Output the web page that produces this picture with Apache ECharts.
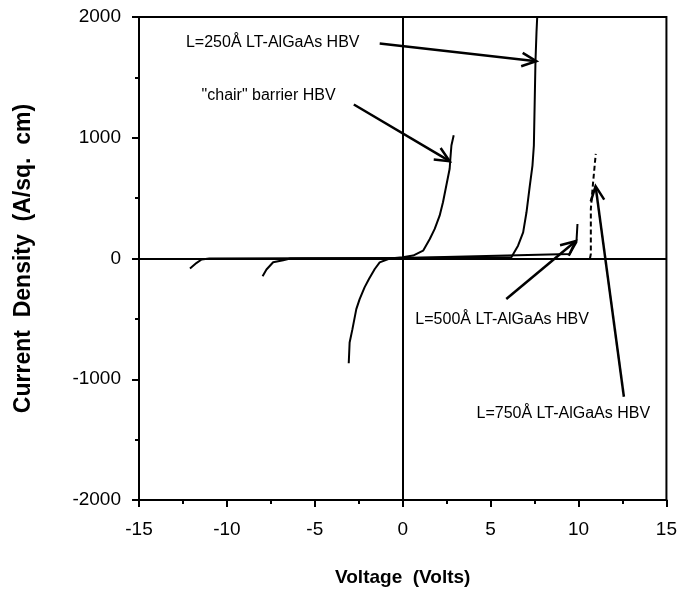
<!DOCTYPE html>
<html>
<head>
<meta charset="utf-8">
<script src="https://cdn.jsdelivr.net/npm/echarts@6/dist/echarts.min.js"></script>
<style>
  html, body { margin: 0; padding: 0; background: #fff; }
  #chart { width: 680px; height: 600px; }
</style>
</head>
<body>
<div id="chart"></div>
<script>
// I-V curves: [voltage, current density]
const chairCurve = [[-3.07,-868],[-3.02,-695],[-2.86,-585],[-2.64,-419],[-2.45,-336],[-2.17,-239],[-1.92,-170],[-1.59,-87],[-1.31,-32],[-0.74,0],[0,10],[0.59,24],[1.16,65],[1.54,162],[1.82,245],[2.1,355],[2.29,466],[2.48,604],[2.67,743],[2.71,826],[2.77,936],[2.9,1020]];
const l250Curve = [[-7.97,-147],[-7.75,-91],[-7.37,-31],[-6.8,-14],[-6.4,0],[0,5],[6.18,10],[6.56,106],[6.85,217],[7.04,383],[7.23,604],[7.38,770],[7.46,936],[7.51,1320],[7.55,1628],[7.61,1877],[7.65,2000]];
const l500Curve = [[-12.1,-83],[-11.72,-36],[-11.44,-8],[-11.0,0],[0,5],[9.5,37],[9.88,134],[9.94,286]];
const l750Curve = [[10.65,0],[10.7,37],[10.7,410],[10.83,632],[10.98,867]];

const xTicks = { min: -15, max: 15, interval: 5 };
const yTicks = { min: -2000, max: 2000, interval: 1000 };

// annotations: text, label anchor (left, middle), arrow tail, arrow tip
const labelTexts = ['L=250Å LT-AlGaAs HBV', '"chair" barrier HBV', 'L=500Å LT-AlGaAs HBV', 'L=750Å LT-AlGaAs HBV'];
const labelAnchors = [[-12.33,1789],[-11.44,1350],[0.72,-510],[4.2,-1284]];
const arrowTails = [[-1.31,1780],[-2.78,1275],[5.89,-335],[12.58,-1145]];
const arrowTips = [[7.6,1634],[2.67,806],[9.83,143],[10.97,599]];

const font = "'Liberation Sans', Arial, sans-serif";
const chart = echarts.init(document.getElementById('chart'));

function curve(data, dashed) {
  return {
    type: 'line',
    data: data,
    showSymbol: false,
    silent: true,
    clip: true,
    lineStyle: { color: '#000', width: 2, type: dashed ? [5, 3] : 'solid' }
  };
}

const axisCommon = {
  axisLine: { show: true, onZero: false, lineStyle: { color: '#000', width: 2 } },
  axisTick: { show: true, inside: false, length: 7, lineStyle: { color: '#000', width: 2 } },
  minorTick: { show: true, splitNumber: 2, length: 4, lineStyle: { color: '#000', width: 2 } },
  splitLine: { show: false },
  minorSplitLine: { show: false }
};

const series = [curve(chairCurve), curve(l250Curve), curve(l500Curve), curve(l750Curve, true)];
series[0].markLine = {
  silent: true,
  symbol: 'none',
  label: { show: false },
  lineStyle: { color: '#000', width: 2, type: 'solid' },
  data: [{ xAxis: 0 }, { yAxis: 0 }]
};

chart.setOption({
  animation: false,
  backgroundColor: '#fff',
  grid: { left: 139, top: 17, right: 13, bottom: 100, show: true, borderColor: '#000', borderWidth: 2 },
  xAxis: Object.assign({
    type: 'value',
    min: xTicks.min, max: xTicks.max, interval: xTicks.interval,
    name: 'Voltage  (Volts)',
    nameLocation: 'middle',
    nameGap: 68,
    nameTextStyle: { fontFamily: font, fontWeight: 'bold', fontSize: 19, color: '#000' },
    axisLabel: { margin: 20, fontFamily: font, fontSize: 19, color: '#000' }
  }, axisCommon),
  yAxis: Object.assign({
    type: 'value',
    min: yTicks.min, max: yTicks.max, interval: yTicks.interval,
    name: 'Current  Density  (A/sq.  cm)',
    nameLocation: 'middle',
    nameGap: 104,
    nameTextStyle: { fontFamily: font, fontWeight: 'bold', fontSize: 23, color: '#000' },
    axisLabel: { margin: 18, fontFamily: font, fontSize: 19, color: '#000', formatter: function (v) { return String(v); } }
  }, axisCommon),
  series: series
});

// labels and arrows placed through the chart's own scales
const graphics = [];
labelTexts.forEach(function (t, i) {
  const p = chart.convertToPixel({ gridIndex: 0 }, labelAnchors[i]);
  graphics.push({
    type: 'text', x: p[0], y: p[1], silent: true,
    style: { text: t, fill: '#000', font: '16px ' + font, textAlign: 'left', textVerticalAlign: 'middle' }
  });
});
arrowTails.forEach(function (tail, i) {
  const a = chart.convertToPixel({ gridIndex: 0 }, tail);
  const b = chart.convertToPixel({ gridIndex: 0 }, arrowTips[i]);
  const dx = b[0] - a[0], dy = b[1] - a[1];
  const len = Math.sqrt(dx * dx + dy * dy);
  const ux = dx / len, uy = dy / len;
  const ang = 25 * Math.PI / 180, arm = 16;
  function rot(s) {
    const c = Math.cos(s * ang), sn = Math.sin(s * ang);
    return [b[0] - arm * (ux * c - uy * sn), b[1] - arm * (ux * sn + uy * c)];
  }
  graphics.push({
    type: 'polyline', silent: true,
    shape: { points: [a, b] },
    style: { stroke: '#000', lineWidth: 2.5, fill: null }
  });
  graphics.push({
    type: 'polyline', silent: true,
    shape: { points: [rot(1), b, rot(-1)] },
    style: { stroke: '#000', lineWidth: 2.5, fill: null, lineJoin: 'miter' }
  });
});
chart.setOption({ graphic: graphics });
</script>
</body>
</html>
